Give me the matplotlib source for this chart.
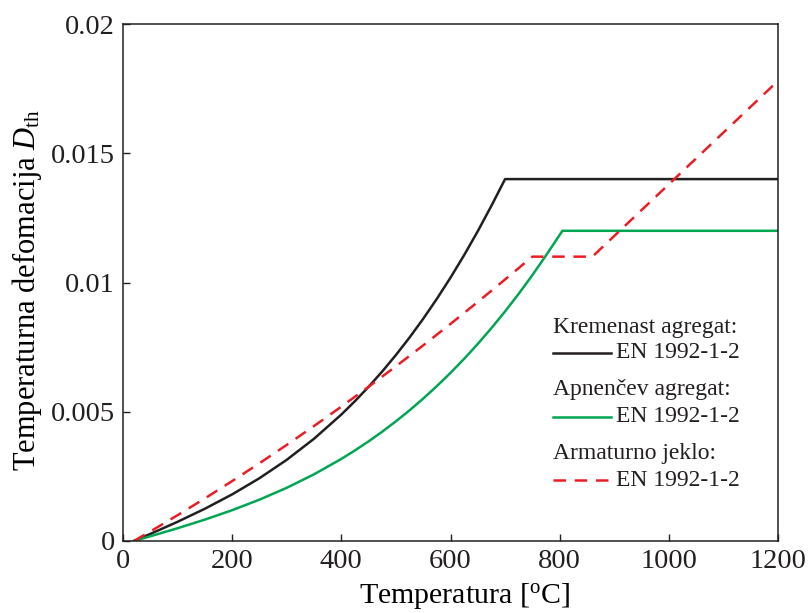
import matplotlib.pyplot as plt
from matplotlib.lines import Line2D
from matplotlib.ticker import FuncFormatter

plt.rcParams['font.family'] = ['Liberation Serif', 'DejaVu Serif']
plt.rcParams['mathtext.fontset'] = 'custom'
plt.rcParams['mathtext.rm'] = 'Liberation Serif'
plt.rcParams['mathtext.it'] = 'Liberation Serif:italic'

# temperatura [°C] in temperaturna deformacija [-]
temp_kremenast = [20, 50, 100, 150, 200, 250, 300, 350, 400, 425, 450,
                  475, 500, 525, 550, 575, 600, 625, 650, 675, 700, 1200]
def_kremenast = [0.0, 0.000273, 0.000743, 0.001248, 0.001804, 0.002429,
                 0.003141, 0.003956, 0.004892, 0.005411, 0.005966,
                 0.006560, 0.007195, 0.007873, 0.008597, 0.009368,
                 0.010188, 0.011060, 0.011986, 0.012969, 0.014, 0.014]

temp_apnenec = [20, 50, 100, 150, 200, 250, 300, 350, 400, 425, 450, 475,
                500, 525, 550, 575, 600, 625, 650, 675, 700, 725, 750, 775,
                805, 1200]
def_apnenec = [0.0, 0.000182, 0.000494, 0.000827, 0.001192, 0.001599,
               0.002058, 0.002580, 0.003176, 0.003505, 0.003856,
               0.004230, 0.004630, 0.005056, 0.005509, 0.005992,
               0.006504, 0.007048, 0.007625, 0.008236, 0.008882,
               0.009565, 0.010286, 0.011047, 0.012, 0.012]

temp_jeklo = [20, 50, 100, 150, 200, 250, 300, 350, 400, 450, 500,
              550, 600, 650, 700, 750, 860, 1200]
def_jeklo = [0.0, 0.000368, 0.000998, 0.001648, 0.002318, 0.003008,
             0.003718, 0.004448, 0.005198, 0.005968, 0.006758,
             0.007568, 0.008398, 0.009248, 0.010118, 0.011, 0.011,
             0.0178]

x_ticks = [0, 200, 400, 600, 800, 1000, 1200]
y_ticks = [0, 0.005, 0.01, 0.015, 0.02]

c_black = '#231f20'
c_green = '#00a651'
c_red = '#ed1c24'

fig = plt.figure(figsize=(8.08, 6.13), dpi=100)
ax = fig.add_axes([123 / 808, 1 - 541 / 613, 655 / 808, 517 / 613])

ax.plot(temp_kremenast, def_kremenast, color=c_black, lw=1.8)
ax.plot(temp_apnenec, def_apnenec, color=c_green, lw=1.8)
ax.plot(temp_jeklo, def_jeklo, color=c_red, lw=1.8, dashes=(5, 3.5))

ax.set_xlim(0, 1200)
ax.set_ylim(0, 0.02)
ax.set_xticks(x_ticks)
ax.set_yticks(y_ticks)
ax.yaxis.set_major_formatter(FuncFormatter(lambda v, p: '0' if v == 0 else f'{v:g}'))
ax.tick_params(direction='in', length=5, width=1.0, labelsize=20.5,
               colors=c_black, pad=6)
for s in ax.spines.values():
    s.set_color(c_black)
    s.set_linewidth(1.1)

ax.set_xlabel('Temperatura [$^{\\mathrm{o}}$C]', fontsize=21.5, labelpad=5,
              x=0.522)
ax.set_ylabel('Temperaturna defomacija $D_{\\mathrm{th}}$', fontsize=22,
              labelpad=5, y=0.4855)

# legenda: naslov skupine, pod njim vzorec crte in oznaka standarda
groups = [('Kremenast agregat:', c_black, '-'),
          ('Apnenčev agregat:', c_green, '-'),
          ('Armaturno jeklo:', c_red, '--')]
x0 = (553 - 123) / 655
x1 = (611 - 123) / 655
xt = (616 - 123) / 655
for i, (name, col, ls) in enumerate(groups):
    yh = (541 - (327 + i * 63)) / 517
    yl = (541 - (353 + i * 63.5)) / 517
    ax.text(x0, yh, name, transform=ax.transAxes, fontsize=17,
            va='center', ha='left', color=c_black)
    ln = Line2D([x0, x1], [yl, yl], transform=ax.transAxes, color=col, lw=1.8)
    if ls == '--':
        ln.set_dashes((5, 3.5))
    ax.add_line(ln)
    ax.text(xt, yl, 'EN 1992-1-2', transform=ax.transAxes, fontsize=17,
            va='center', ha='left', color=c_black)

fig.savefig('out.png', dpi=100)
